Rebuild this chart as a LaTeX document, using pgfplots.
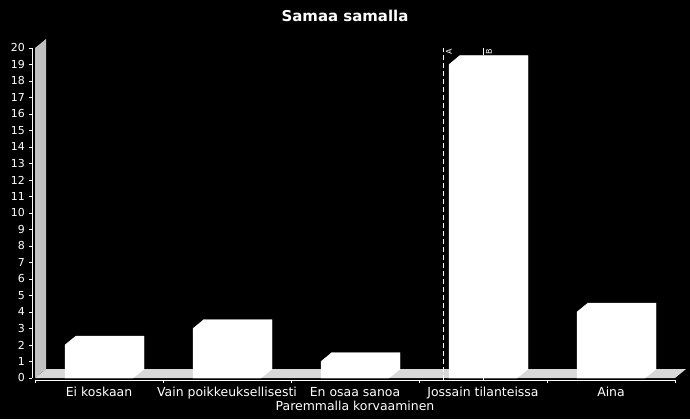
\documentclass[border=0pt]{standalone}
\usepackage{fontspec}
\setmainfont{DejaVu Sans}
\usepackage{pgfplots}
\usepackage{pgfplotstable}
\pgfplotsset{compat=1.18}
\definecolor{wallgray}{RGB}{192,192,192}
\definecolor{floorgray}{RGB}{216,216,216}

% Samaa samalla -- answers per category
\pgfplotstableread{
x y
0 2
1 3
2 1
3 19
4 4
}\answers

\begin{document}
\begin{tikzpicture}[x=1bp,y=1bp]
\fill[black] (0,0) rectangle (690,419);
\node[white, font=\bfseries\fontsize{15}{18}\selectfont] at (345,403) {Samaa samalla};
\begin{axis}[
  at={(35bp,41bp)}, anchor=south west,
  scale only axis, width=640bp, height=330bp,
  xmin=-0.5, xmax=4.5, ymin=0, ymax=20,
  clip=false,
  axis lines*=left,
  axis x line shift=2bp,
  axis y line shift=3bp,
  axis line style={white, line width=0.8bp},
  every tick/.style={white, line width=0.8bp},
  tick align=outside,
  major tick length=3bp,
  /pgf/number format/assume math mode=true,
  xtick={-0.5,0.5,...,4.5},
  xticklabels={},
  extra x ticks={0,1,2,3,4},
  extra x tick labels={Ei koskaan, Vain poikkeuksellisesti, En osaa sanoa, Jossain tilanteissa, Aina},
  extra x tick style={major tick length=0bp},
  ytick={0,1,...,20},
  x tick label style={white, font=\fontsize{12.5}{14}\selectfont, inner sep=1bp, yshift=-6bp},
  y tick label style={white, font=\fontsize{11}{14}\selectfont, inner sep=1bp, xshift=-3bp},
  xlabel={Paremmalla korvaaminen},
  xlabel style={white, font=\fontsize{12.5}{14}\selectfont, inner sep=0bp, yshift=2bp},
]
% floor and wall
\fill[floorgray] (axis cs:-0.5,0) -- (axis cs:4.5,0) -- ++(11bp,9bp)
  -- ([shift={(11bp,9bp)}]axis cs:-0.5,0) -- cycle;
\fill[wallgray] (axis cs:-0.5,0) -- (axis cs:-0.5,20) -- ++(11bp,9bp)
  -- ([shift={(11bp,9bp)}]axis cs:-0.5,0) -- cycle;

% 3D bars: each mark draws front, top and side of one bar (16.5bp per unit)
\addplot[scatter, only marks, mark=*, mark size=0.01bp, white,
  visualization depends on={rawy \as \barval},
  scatter/@pre marker code/.code={
    \pgfmathsetmacro\barh{\barval*16.5}
    \fill[white] (-34bp,-\barh bp) -- (-34bp,0bp) -- (-23bp,9bp) -- (45bp,9bp)
      -- (45bp,9bp-\barh bp) -- (34bp,-\barh bp) -- cycle;
  },
  scatter/@post marker code/.code={},
] table {\answers};

% markers A and B
\addplot[white, line width=0.8bp, dash pattern=on 5bp off 3bp] coordinates {(2.6875,-0.15) (2.6875,20)};
\addplot[white, line width=0.8bp] coordinates {(3,20) (3,19.55)};
\addplot[white, line width=0.8bp] coordinates {(3,-0.15) (3,0)};
\node[white, rotate=90, font=\fontsize{8}{9}\selectfont, anchor=east, inner sep=0.5bp]
  at ([xshift=6bp]axis cs:2.6875,20) {A};
\node[white, rotate=90, font=\fontsize{8}{9}\selectfont, anchor=east, inner sep=0.5bp]
  at ([xshift=6bp]axis cs:3,20) {B};
\end{axis}
\end{tikzpicture}
\end{document}
